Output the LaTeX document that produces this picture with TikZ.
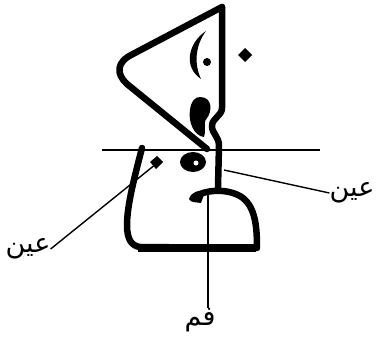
\documentclass[tikz,border=0pt]{standalone}
\usepackage{fontspec}
\newfontfamily\arabicfont[Script=Arabic]{DejaVu Sans}
\TeXXeTstate=1
\begin{document}
\begin{tikzpicture}[x=1pt,y=-1pt,
  thickstroke/.style={line width=6.5pt,line cap=round,line join=round},
  thinline/.style={line width=1.4pt},
  lbl/.style={font=\arabicfont\fontsize{27}{30}\selectfont, inner sep=0pt}]
\useasboundingbox[fill=white] (0,0) rectangle (384,348);
% horizontal line
\draw[thinline] (102,150) -- (320,150);
% big triangle
\draw[thickstroke] (222,7) -- (133,54) .. controls (116,62) and (116,74) .. (127,84) -- (207,149);
% vertical stroke with bend
\draw[thickstroke] (222,7) -- (222,108) .. controls (222,116) and (212,118) .. (212,126) .. controls (212,134) and (219,136) .. (219,146) -- (218,187);
% kaf blob
\fill (200,97) .. controls (213,97) and (212,112) .. (207,118) .. controls (202,124) and (207,131) .. (204,137) .. controls (194,136) and (188,122) .. (190,110) .. controls (191,101) and (195,97) .. (200,97) -- cycle;
% upper crescent
\fill (206,31) .. controls (188,43) and (183,67) .. (201,79) .. controls (194,64) and (195,46) .. (206,31) -- cycle;
% eye dot
\fill (207,62) circle (4);
% diamonds
\fill (245,48) -- (252,55) -- (245,62) -- (238,55) -- cycle;
\fill (157,156) -- (163,162) -- (156,169) -- (150,162) -- cycle;
% eye blob
\fill (193,162) ellipse (13 and 10);
\fill[white] (196,163) circle (2.5);
% left stroke, bottom, dome
\draw[thickstroke] (142,148) .. controls (135,175) and (127,205) .. (127,225) .. controls (127,240) and (132,246) .. (140,247) -- (257,248) .. controls (257,225) and (255,205) .. (240,196) .. controls (225,188) and (205,190) .. (194,197);
\draw[line width=8pt] (138,248) -- (256,248);
\fill (189,199) .. controls (191,192) and (200,189) .. (205,192) -- (201,203) .. controls (196,202) and (191,203) .. (189,199) -- cycle;
% labels
\node[lbl] (ainR) at (352,193) {\beginR عين\endR};
\node[lbl] (ainL) at (28,249) {\beginR عين\endR};
\node[lbl] (fam) at (200,320) {\beginR فم\endR};
\coordinate (domeTop) at (208,195);
\coordinate (eyeR) at (224,170);
\coordinate (diamL) at (156,164);
\draw[thinline] (domeTop) -- (domeTop |- fam.north);
\draw[thinline] (eyeR) -- (ainR.west);
\draw[thinline] (ainL.east) -- (diamL);
\end{tikzpicture}
\end{document}
